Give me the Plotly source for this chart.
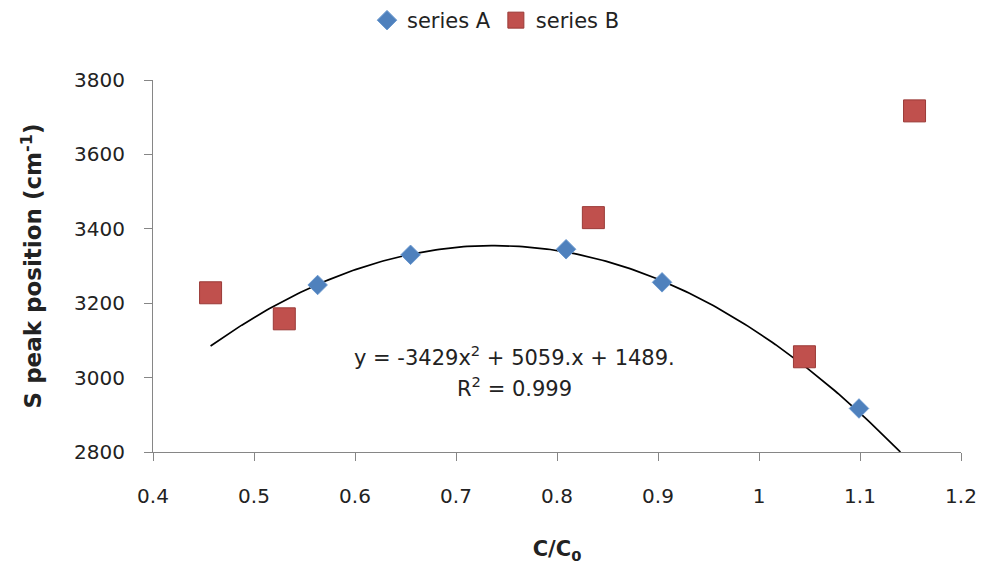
import numpy as np
import plotly.graph_objects as go

# Data
series_a_x = [0.563, 0.655, 0.809, 0.904, 1.099]
series_a_y = [3249, 3330, 3345, 3256, 2917]
series_b_x = [0.457, 0.530, 0.836, 1.045, 1.154]
series_b_y = [3228, 3158, 3430, 3056, 3717]

# Trendline coefficients as printed on the chart
trend_coef = [-3429, 5059, 1489]
trend_x_start = 0.457
trend_x_end = 1.140

x_ticks = [0.4, 0.5, 0.6, 0.7, 0.8, 0.9, 1.0, 1.1, 1.2]
x_tick_labels = ["0.4", "0.5", "0.6", "0.7", "0.8", "0.9", "1", "1.1", "1.2"]
y_ticks = [2800, 3000, 3200, 3400, 3600, 3800]

tx = np.linspace(trend_x_start, trend_x_end, 200)
ty = np.polyval(trend_coef, tx)

fig = go.Figure()
fig.add_trace(go.Scatter(
    x=tx, y=ty, mode="lines", line=dict(color="black", width=1.7),
    showlegend=False, hoverinfo="skip"))
fig.add_trace(go.Scatter(
    x=series_a_x, y=series_a_y, mode="markers", name="series A",
    marker=dict(symbol="diamond", size=15, color="#4F81BD",
                line=dict(color="#6A98CF", width=1))))
fig.add_trace(go.Scatter(
    x=series_b_x, y=series_b_y, mode="markers", name="series B",
    marker=dict(symbol="square", size=22, color="#C0504D",
                line=dict(color="#9A3A37", width=1))))

axis_font = dict(family="DejaVu Sans", size=20, color="#222222")
title_font = dict(family="DejaVu Sans", size=23, color="#222222")
fig.update_layout(
    width=992, height=568,
    margin=dict(l=153, r=31, t=80, b=116),
    paper_bgcolor="white", plot_bgcolor="white",
    font=dict(family="DejaVu Sans", color="#222222"),
    legend=dict(orientation="h", xref="container", yref="container",
                x=0.5, xanchor="center", y=1.0, yanchor="top",
                font=dict(family="DejaVu Sans", size=21, color="#222222"),
                itemwidth=30),
    xaxis=dict(range=[0.4, 1.2], tickvals=x_ticks, ticktext=x_tick_labels,
               showgrid=False, zeroline=False, showline=True,
               linecolor="#868686", linewidth=1.2, ticks="outside",
               tickcolor="#868686", ticklen=8, tickfont=axis_font,
               ticklabelstandoff=18,
               title=dict(text="<b>C/C<sub>0</sub></b>", standoff=34,
                          font=dict(family="DejaVu Sans", size=21, color="#222222"))),
    yaxis=dict(range=[2800, 3800], tickvals=y_ticks,
               showgrid=False, zeroline=False, showline=True,
               linecolor="#868686", linewidth=1.2, ticks="outside",
               tickcolor="#868686", ticklen=8, tickfont=axis_font,
               ticklabelstandoff=15,
               title=dict(text="<b>S peak position (cm<sup>-1</sup>)</b>", standoff=25,
                          font=title_font)),
)

fig.add_annotation(x=0.758, y=3059, xref="x", yref="y", showarrow=False,
                   text="y = -3429x<sup>2</sup> + 5059.x + 1489.",
                   font=dict(family="DejaVu Sans", size=21, color="#222222"))
fig.add_annotation(x=0.758, y=2976, xref="x", yref="y", showarrow=False,
                   text="R<sup>2</sup> = 0.999",
                   font=dict(family="DejaVu Sans", size=21, color="#222222"))

fig.write_html("out.html")
